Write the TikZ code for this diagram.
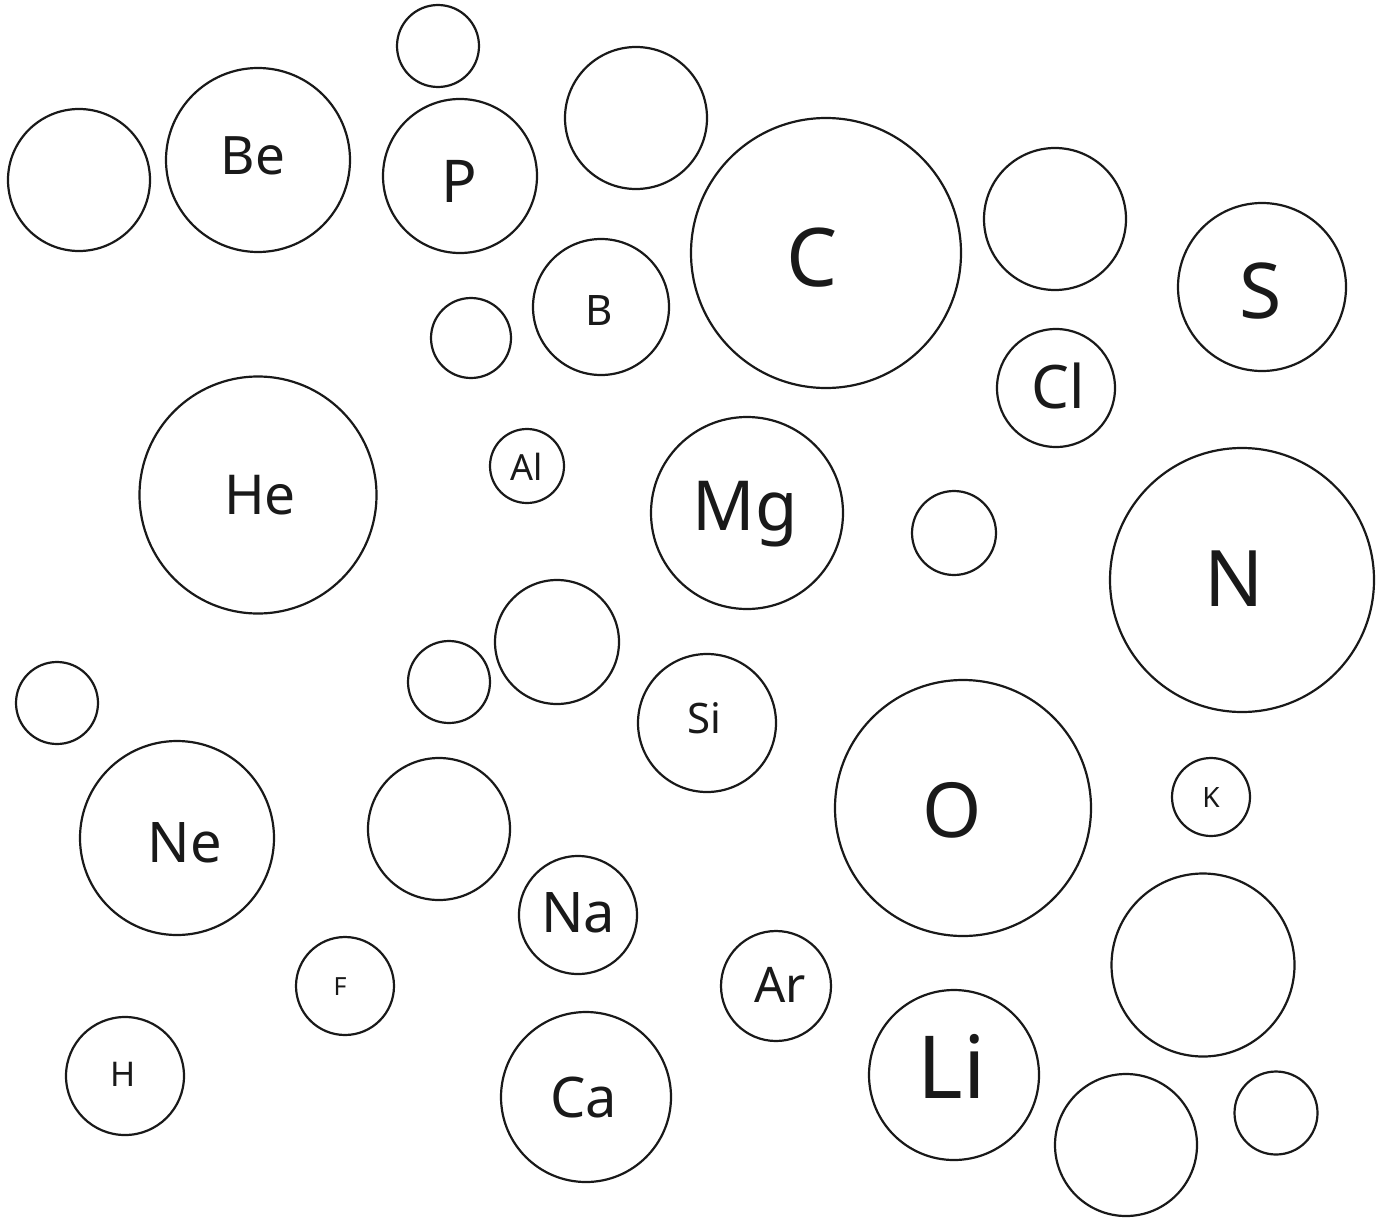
\documentclass[tikz,border=0pt]{standalone}
\usepackage{fontspec}
\setmainfont{Noto Sans}
\begin{document}
\begin{tikzpicture}[x=1pt,y=-1pt,
  bubble/.style={circle,draw=black!90,line width=2.2pt,inner sep=0pt,minimum size=#1},
  lbl/.style={anchor=base,inner sep=0pt,text=black!90,font=\fontsize{#1}{#1}\selectfont}]
\useasboundingbox (0,0) rectangle (1383,1220);
% circles: center x, center y, diameter
\node[bubble=142pt] (c1) at (79,180) {};
\node[bubble=184pt] (cBe) at (258,160) {};
\node[bubble=82pt] (c3) at (438,46) {};
\node[bubble=154pt] (cP) at (460,176) {};
\node[bubble=142pt] (c5) at (636,118) {};
\node[bubble=270pt] (cC) at (826,253) {};
\node[bubble=142pt] (c7) at (1055,219) {};
\node[bubble=168pt] (cS) at (1262,287) {};
\node[bubble=136pt] (cB) at (601,307) {};
\node[bubble=80pt] (c10) at (471,338) {};
\node[bubble=118pt] (cCl) at (1056,388) {};
\node[bubble=237pt] (cHe) at (258,495) {};
\node[bubble=74pt] (cAl) at (527,466) {};
\node[bubble=192pt] (cMg) at (747,513) {};
\node[bubble=84pt] (c15) at (954,533) {};
\node[bubble=264pt] (cN) at (1242,580) {};
\node[bubble=124pt] (c17) at (557,642) {};
\node[bubble=82pt] (c18) at (449,682) {};
\node[bubble=82pt] (c19) at (57,703) {};
\node[bubble=138pt] (cSi) at (707,723) {};
\node[bubble=256pt] (cO) at (963,808) {};
\node[bubble=78pt] (cK) at (1211,797) {};
\node[bubble=194pt] (cNe) at (177,838) {};
\node[bubble=142pt] (c24) at (439,829) {};
\node[bubble=118pt] (cNa) at (578,915) {};
\node[bubble=183pt] (c26) at (1203,965) {};
\node[bubble=98pt] (cF) at (345,986) {};
\node[bubble=110pt] (cAr) at (776,986) {};
\node[bubble=170pt] (cLi) at (954,1075) {};
\node[bubble=118pt] (cH) at (125,1076) {};
\node[bubble=170pt] (cCa) at (586,1097) {};
\node[bubble=142pt] (c32) at (1126,1145) {};
\node[bubble=83pt] (c33) at (1276,1113) {};
% labels: x, baseline y
\node[lbl=53] (tBe) at (253,174) {Be};
\node[lbl=59] (tP) at (459,202) {P};
\node[lbl=81] (tC) at (812,286) {C};
\node[lbl=77] (tS) at (1261,318) {S};
\node[lbl=42] (tB) at (599,325) {B};
\node[lbl=60] (tCl) at (1058,408) {Cl};
\node[lbl=55] (tHe) at (260,514) {He};
\node[lbl=36] (tAl) at (527,480) {Al};
\node[lbl=69] (tMg) at (745,530) {Mg};
\node[lbl=78] (tN) at (1234,606) {N};
\node[lbl=42] (tSi) at (704,733) {Si};
\node[lbl=76] (tO) at (952,837) {O};
\node[lbl=28] (tK) at (1211,807) {K};
\node[lbl=56] (tNe) at (185,862) {Ne};
\node[lbl=56] (tNa) at (578,932) {Na};
\node[lbl=25] (tF) at (340,995) {F};
\node[lbl=49] (tAr) at (780,1002) {Ar};
\node[lbl=87] (tLi) at (952,1098) {Li};
\node[lbl=34] (tH) at (123,1086) {H};
\node[lbl=56] (tCa) at (584,1117) {Ca};
\end{tikzpicture}
\end{document}
